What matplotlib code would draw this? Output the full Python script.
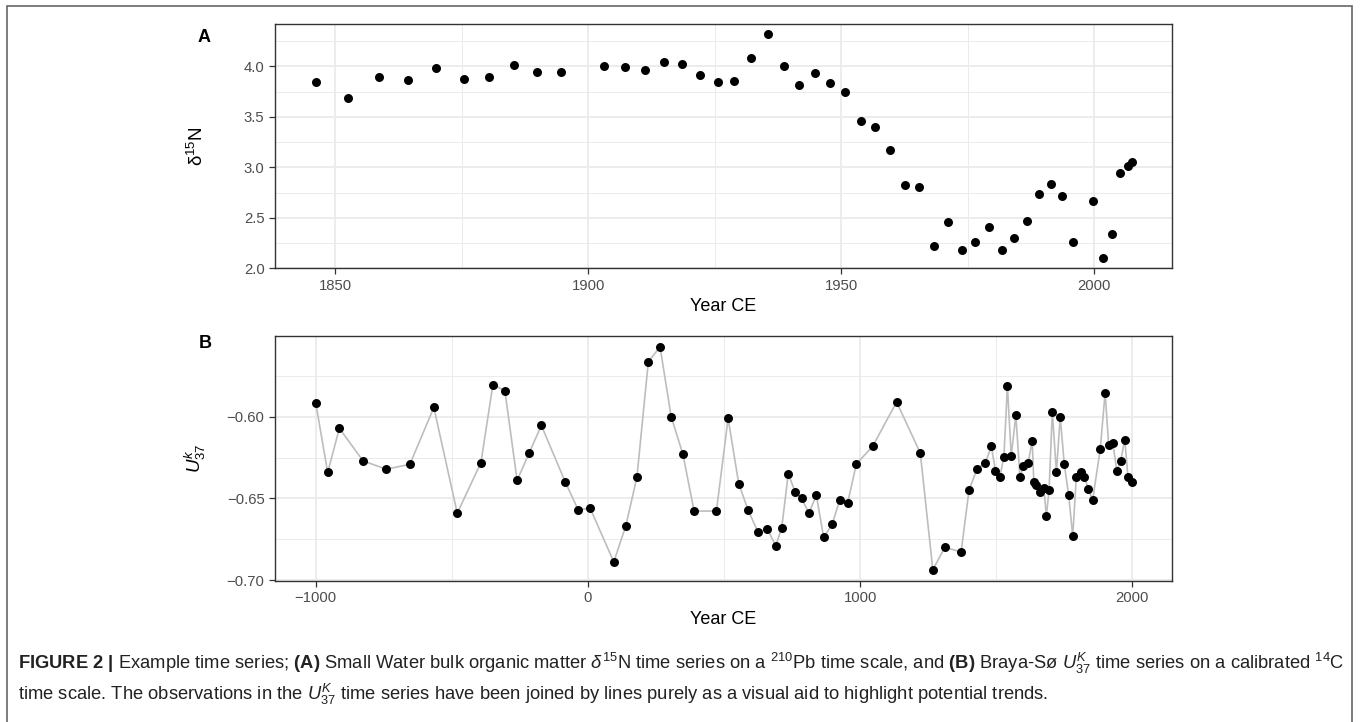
import matplotlib
matplotlib.use("Agg")
import matplotlib.pyplot as plt
from matplotlib.patches import Rectangle
from matplotlib.ticker import MultipleLocator

plt.rcParams['font.family'] = ['Liberation Sans', 'DejaVu Sans']
plt.rcParams['mathtext.fontset'] = 'custom'
plt.rcParams['mathtext.rm'] = 'Liberation Sans'
plt.rcParams['mathtext.it'] = 'Liberation Sans:italic'
plt.rcParams['mathtext.bf'] = 'Liberation Sans:bold'

# Small Water d15N, 210Pb dated
sw_year = [1846.2, 1852.5, 1858.6, 1864.4, 1870.0, 1875.4, 1880.4, 1885.4,
           1890.0, 1894.6, 1903.2, 1907.3, 1911.2, 1915.0, 1918.6, 1922.2,
           1925.6, 1928.9, 1932.2, 1935.5, 1938.6, 1941.7, 1944.8, 1947.8,
           1950.8, 1953.9, 1956.7, 1959.6, 1962.6, 1965.4, 1968.3, 1971.1,
           1973.9, 1976.5, 1979.1, 1981.7, 1984.2, 1986.6, 1989.1, 1991.4,
           1993.6, 1995.7, 1999.8, 2001.7, 2003.4, 2005.1, 2006.6, 2007.4]
sw_d15n = [3.84, 3.69, 3.89, 3.86, 3.98, 3.87, 3.89, 4.01,
           3.94, 3.94, 4.00, 3.99, 3.96, 4.04, 4.02, 3.91,
           3.84, 3.85, 4.08, 4.32, 4.00, 3.81, 3.93, 3.83,
           3.75, 3.46, 3.40, 3.17, 2.82, 2.80, 2.22, 2.46,
           2.18, 2.26, 2.41, 2.18, 2.30, 2.47, 2.74, 2.83,
           2.72, 2.26, 2.67, 2.10, 2.34, 2.94, 3.01, 3.05]

# Braya-So UK37, calibrated 14C ages
bs_year = [-1000, -956, -913, -826, -741, -654, -566, -480, -393, -349,
           -305, -260, -216, -171, -83, -36, 8, 95, 139, 180,
           222, 265, 306, 349, 390, 472, 515, 554, 588, 625,
           659, 690, 712, 736, 761, 785, 812, 839, 866, 897,
           925, 954, 986, 1046, 1134, 1221, 1267, 1311, 1371, 1400,
           1429, 1460, 1482, 1497, 1513, 1528, 1541, 1555, 1572, 1587,
           1600, 1617, 1632, 1638, 1646, 1660, 1675, 1684, 1694, 1706,
           1721, 1735, 1750, 1766, 1781, 1794, 1810, 1824, 1838, 1854,
           1882, 1900, 1913, 1928, 1943, 1957, 1972, 1984, 1999]
bs_uk37 = [-0.5913, -0.6341, -0.6071, -0.6270, -0.6321, -0.6291, -0.5943, -0.6590, -0.6281, -0.5803,
           -0.5841, -0.6390, -0.6222, -0.6053, -0.6400, -0.6569, -0.6559, -0.6888, -0.6669, -0.6370,
           -0.5663, -0.5573, -0.6000, -0.6230, -0.6577, -0.6577, -0.6010, -0.6409, -0.6569, -0.6707,
           -0.6687, -0.6789, -0.6679, -0.6349, -0.6459, -0.6500, -0.6590, -0.6480, -0.6738, -0.6659,
           -0.6510, -0.6529, -0.6289, -0.6181, -0.5910, -0.6222, -0.6937, -0.6799, -0.6827, -0.6449,
           -0.6321, -0.6281, -0.6181, -0.6329, -0.6368, -0.6248, -0.5811, -0.6240, -0.5990, -0.6368,
           -0.6303, -0.6282, -0.6148, -0.6398, -0.6419, -0.6459, -0.6439, -0.6608, -0.6449, -0.5971,
           -0.6339, -0.6002, -0.6291, -0.6480, -0.6730, -0.6370, -0.6339, -0.6368, -0.6441, -0.6510,
           -0.6199, -0.5852, -0.6173, -0.6160, -0.6329, -0.6272, -0.6140, -0.6368, -0.6400]

grid_col = '#EBEBEB'
tick_col = '#4D4D4D'


def bw_axes(ax):
    # ggplot-like theme_bw look
    ax.set_facecolor('white')
    for s in ax.spines.values():
        s.set_color('#333333')
        s.set_linewidth(1.0)
    ax.grid(which='major', color=grid_col, linewidth=1.3, zorder=0)
    ax.grid(which='minor', color=grid_col, linewidth=0.7, zorder=0)
    ax.set_axisbelow(True)
    ax.tick_params(which='major', length=4.5, width=0.9, color='#333333',
                   labelcolor=tick_col, labelsize=10.7, pad=3)
    ax.tick_params(which='minor', length=0)


fig = plt.figure(figsize=(13.6, 7.22), dpi=100)

# outer frame
fig.patches.append(Rectangle((7 / 1360, -0.05), 1345 / 1360, 1.05 - 6 / 722,
                             transform=fig.transFigure, fill=False,
                             edgecolor='#666666', linewidth=1.2))

# panel A
axA = fig.add_axes([0.2022, 0.6284, 0.6596, 0.3384])
bw_axes(axA)
axA.scatter(sw_year, sw_d15n, s=42, color='black', zorder=3, linewidths=0)
axA.set_xlim(1838.15, 2015.35)
axA.set_ylim(2.0, 4.419)
axA.xaxis.set_major_locator(MultipleLocator(50))
axA.xaxis.set_minor_locator(MultipleLocator(25))
axA.yaxis.set_major_locator(MultipleLocator(0.5))
axA.yaxis.set_minor_locator(MultipleLocator(0.25))
axA.yaxis.set_major_formatter(matplotlib.ticker.FormatStrFormatter('%.1f'))
axA.set_xlabel('Year CE', fontsize=13, labelpad=4)
axA.set_ylabel(r'$\mathrm{\delta}^{15}$N', fontsize=13.5)
axA.yaxis.set_label_coords(-0.0758, 0.5)
fig.text(204 / 1360, 1 - 38 / 722, 'A', fontsize=13, fontweight='bold',
         ha='center', va='center')

# panel B
axB = fig.add_axes([0.2022, 0.1953, 0.6596, 0.3393])
bw_axes(axB)
axB.plot(bs_year, bs_uk37, color='#BDBDBD', linewidth=1.2, zorder=2)
axB.scatter(bs_year, bs_uk37, s=42, color='black', zorder=3, linewidths=0)
axB.set_xlim(-1149.5, 2145.8)
axB.set_ylim(-0.7005, -0.5506)
axB.xaxis.set_major_locator(MultipleLocator(1000))
axB.xaxis.set_minor_locator(MultipleLocator(500))
axB.yaxis.set_major_locator(MultipleLocator(0.05))
axB.yaxis.set_minor_locator(MultipleLocator(0.025))
axB.yaxis.set_major_formatter(matplotlib.ticker.FuncFormatter(
    lambda v, p: ('%.2f' % v).replace('-', '\u2212')))
axB.xaxis.set_major_formatter(matplotlib.ticker.FuncFormatter(
    lambda v, p: ('%d' % v).replace('-', '\u2212')))
axB.set_xlabel('Year CE', fontsize=13, labelpad=4)
axB.set_ylabel(r'$U^{k}_{37}$', fontsize=13.5)
axB.yaxis.set_label_coords(-0.0747, 0.5)
fig.text(205 / 1360, 1 - 343 / 722, 'B', fontsize=13, fontweight='bold',
         ha='center', va='center')

# caption
line1 = (r'$\mathbf{FIGURE\ 2\ |}$ Example time series; $\mathbf{(A)}$ Small Water '
         r'bulk organic matter $\delta^{15}$N time series on a $^{210}$Pb time scale, '
         r'and $\mathbf{(B)}$ Braya-Sø $U^{K}_{37}$ time series on a calibrated $^{14}$C')
line2 = (r'time scale. The observations in the $U^{K}_{37}$ time series have been '
         r'joined by lines purely as a visual aid to highlight potential trends.')
fig.text(18 / 1360, 1 - 669 / 722, line1, fontsize=13.2, color='#222222',
         ha='left', va='baseline')
fig.text(18 / 1360, 1 - 700 / 722, line2, fontsize=13.2, color='#222222',
         ha='left', va='baseline')

fig.savefig('out.png', dpi=100)
